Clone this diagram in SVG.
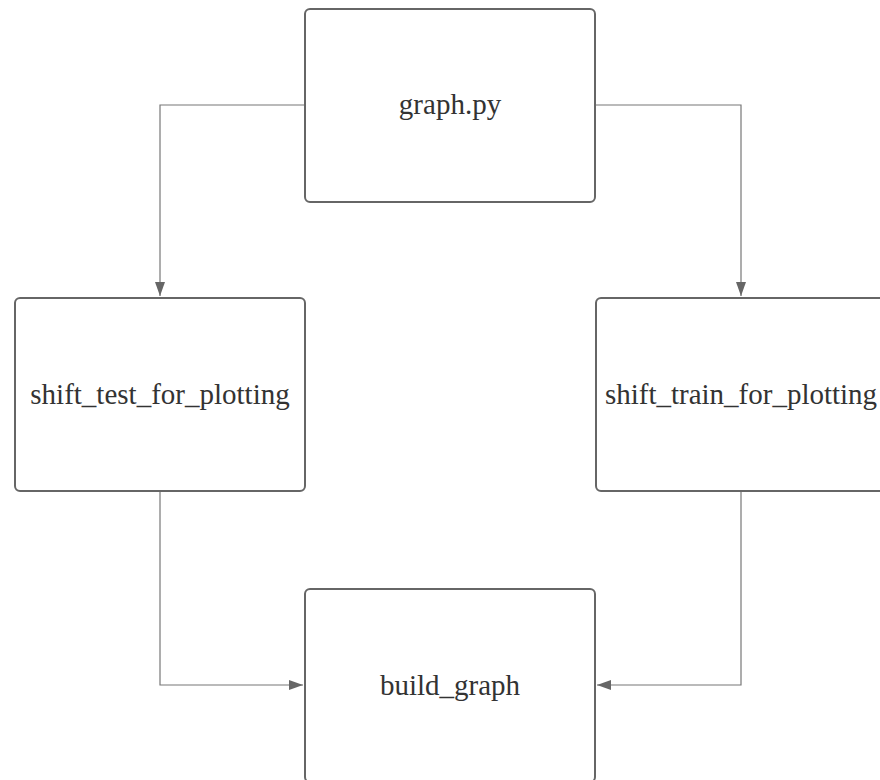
<svg xmlns="http://www.w3.org/2000/svg" width="880" height="780" viewBox="0 0 880 780">
  <style>
    .box { fill: #ffffff; stroke: #666666; stroke-width: 2; }
    .label { font-family: "Times New Roman", "Liberation Serif", Tinos, "DejaVu Serif", serif; font-size: 29px; fill: #333333; text-anchor: middle; }
    .wire { fill: none; stroke: #777777; stroke-width: 1.2; }
  </style>
  <defs>
    <marker id="arrow" viewBox="0 0 14 10" refX="14" refY="5" markerWidth="14" markerHeight="10" markerUnits="userSpaceOnUse" orient="auto">
      <path d="M0,0 L14,5 L0,10 Z" fill="#666666"/>
    </marker>
  </defs>
  <rect width="880" height="780" fill="#ffffff"/>

  <g id="connectors">
    <path class="wire" d="M305,105 H160 V296" marker-end="url(#arrow)"/>
    <path class="wire" d="M595,105 H741 V296" marker-end="url(#arrow)"/>
    <path class="wire" d="M160,492 V685 H303" marker-end="url(#arrow)"/>
    <path class="wire" d="M741,492 V685 H597" marker-end="url(#arrow)"/>
  </g>

  <g id="graph_py">
    <rect class="box" x="305" y="9" width="290" height="193" rx="5"/>
    <text class="label" x="450" y="114">graph.py</text>
  </g>

  <g id="shift_test_for_plotting">
    <rect class="box" x="15" y="298" width="290" height="193" rx="5"/>
    <text class="label" x="160" y="404">shift_test_for_plotting</text>
  </g>

  <g id="shift_train_for_plotting">
    <rect class="box" x="596" y="298" width="290" height="193" rx="5"/>
    <text class="label" x="741" y="404">shift_train_for_plotting</text>
  </g>

  <g id="build_graph">
    <rect class="box" x="305" y="589" width="290" height="193" rx="5"/>
    <text class="label" x="450" y="695">build_graph</text>
  </g>
</svg>
